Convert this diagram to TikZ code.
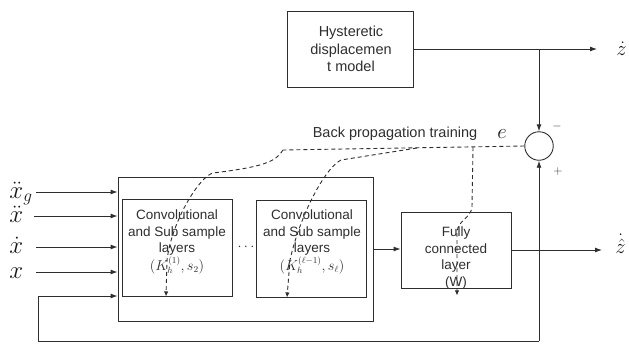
\documentclass[tikz,border=0pt]{standalone}
\usepackage{fontspec}
\setmainfont{Liberation Sans}
\usetikzlibrary{arrows.meta,calc}
\begin{document}
\begin{tikzpicture}[x=1pt,y=-1pt,line width=0.9pt,color=black!82,
  box/.style={draw,rectangle,inner sep=0pt},
  arr/.style={-{Latex[length=7pt,width=5pt]}},
  darr/.style={dash pattern=on 4pt off 3pt,-{Latex[length=5pt,width=4.5pt]}},
  dsh/.style={dash pattern=on 4pt off 3pt},
  txt/.style={align=center,inner sep=0pt,font=\fontsize{14.5}{17.2}\selectfont},
  ctxt/.style={align=center,inner sep=0pt,font=\fontsize{13.5}{16.5}\selectfont},
  mlab/.style={inner sep=0pt,text=black!90,text height=16pt,text depth=1pt,font=\fontsize{25}{25}\selectfont},
  olab/.style={inner sep=0pt,text=black!90,font=\fontsize{21}{21}\selectfont},
  sgn/.style={inner sep=0pt,font=\fontsize{12}{12}\selectfont}]
\useasboundingbox (0,0) rectangle (629,346);

% blocks
\node[box,minimum width=126pt,minimum height=76pt] (hyst) at (350,49) {};
\node[txt] (hystt) at (351,49) {Hysteretic\\displacemen\\t model};
\node[box,minimum width=255pt,minimum height=144pt] (cont) at (245.5,249) {};
\node[box,minimum width=110pt,minimum height=97pt] (conv1) at (177,247.5) {};
\node[box,minimum width=110pt,minimum height=97pt] (conv2) at (311.5,248.5) {};
\node[box,minimum width=110pt,minimum height=76pt] (fc) at (456,250) {};
\node[draw,circle,minimum size=28.5pt,inner sep=0pt] (sum) at (539,146) {};

\node[ctxt] (c1t) at (177,242) {Convolutional\\and Sub sample\\layers\\$(K_h^{(1)},s_2)$};
\node[ctxt] (c2t) at (312,242) {Convolutional\\and Sub sample\\layers\\$(K_h^{(\ell-1)},s_\ell)$};
\node[ctxt] (fct) at (456,258) {Fully\\connected\\layer\\(W)};
\node[ctxt] (dots) at (246,247) {$\cdots$};

% input labels and arrows
\node[mlab,anchor=base west,text depth=6pt] (lxg) at (9,198) {$\ddot{x}_g$};
\node[mlab,anchor=base west] (lxdd) at (9,222) {$\ddot{x}$};
\node[mlab,anchor=base west] (lxd) at (9,253) {$\dot{x}$};
\node[mlab,anchor=base west] (lx) at (9,278) {$x$};
\coordinate (i1) at (36,192);
\coordinate (i2) at (34,216);
\coordinate (i3) at (36,247);
\coordinate (i4) at (36,272);
\draw[arr] (i1) -- (i1 -| cont.west);
\draw[arr] (i2) -- (i2 -| cont.west);
\draw[arr] (i3) -- (i3 -| cont.west);
\draw[arr] (i4) -- (i4 -| cont.west);

% outputs
\coordinate (zo) at (597,49);
\draw[arr] (hyst.east) -- (zo);
\node[olab,anchor=base west] (zl) at (616,55) {$\dot{z}$};
\draw[arr] (hyst.east -| sum.north) -- (sum.north);
\draw[arr] (cont.east) -- (cont.east -| fc.west);
\coordinate (zho) at (602,250);
\draw[arr] (fc.east |- zho) -- (zho);
\node[olab,anchor=base west] (zhl) at (615,253) {$\dot{\hat{z}}$};

% feedback loop
\coordinate (fbl) at (38,341);
\coordinate (fbin) at (38,296);
\draw[arr] (sum.south |- fbl) -- (sum.south);
\draw[arr] (sum.south |- fbl) -- (fbl) -- (fbin) -- (fbin -| cont.west);

% signs and labels
\node[sgn] (minus) at (557,126) {$-$};
\node[sgn] (plus) at (558,171) {$+$};
\node[olab,anchor=base west] (el) at (497,138) {$e$};
\node[txt,anchor=base] (bpt) at (395,137) {Back propagation training};

% back propagation dashed lines
\coordinate (j1) at (283,150);
\coordinate (j2) at (417,148);
\coordinate (j3) at (473,147);
\draw[dsh] (sum.west) -- (j1);
\draw[darr] (j1) .. controls (276,162) and (262,167) .. (213,173)
  .. controls (200,176) and (172,220) .. (167,260) -- ($(conv1.south)+(-11,0)$);
\draw[darr] (j2) -- (341,160) .. controls (325,168) and (300,215) .. (290,260)
  -- ($(conv2.south)+(-24.5,0)$);
\draw[darr] (j3) -- (472,207) .. controls (471,218) and (458,220) .. (457,232)
  -- ($(fc.south)+(1,7)$);
\end{tikzpicture}
\end{document}
